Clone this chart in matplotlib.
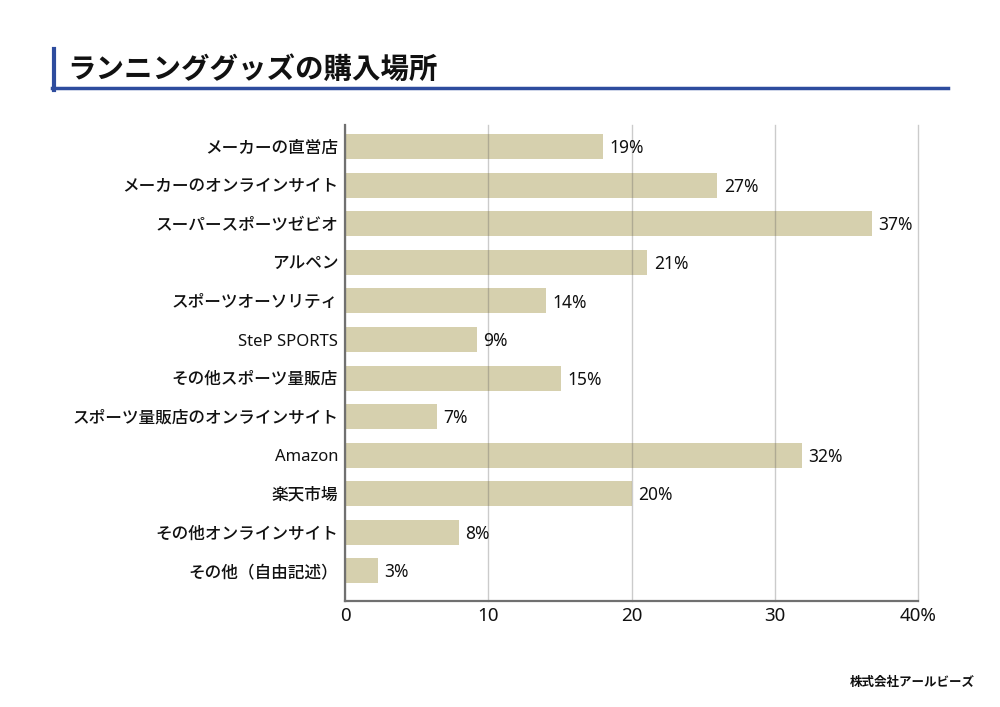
import matplotlib.pyplot as plt
from matplotlib.lines import Line2D

plt.rcParams['font.family'] = ['Noto Sans CJK JP', 'DejaVu Sans']
num_font = ['Noto Sans', 'Noto Sans CJK JP']

# --- data ---
categories = ['メーカーの直営店', 'メーカーのオンラインサイト', 'スーパースポーツゼビオ', 'アルペン',
              'スポーツオーソリティ', 'SteP SPORTS', 'その他スポーツ量販店',
              'スポーツ量販店のオンラインサイト', 'Amazon', '楽天市場', 'その他オンラインサイト',
              'その他（自由記述）']
bar_values = [18.0, 26.0, 36.8, 21.1, 14.0, 9.2, 15.1, 6.4, 31.9, 20.0, 7.95, 2.3]
value_labels = ['19%', '27%', '37%', '21%', '14%', '9%', '15%', '7%', '32%', '20%', '8%', '3%']
x_ticks = [0, 10, 20, 30, 40]
x_tick_labels = ['0', '10', '20', '30', '40%']

bar_color = '#D6D0AE'
blue = '#2E4C9E'

fig = plt.figure(figsize=(10, 7.07), dpi=100)
ax = fig.add_axes([0.345, 0.150, 0.573, 0.673])

pos = list(range(len(categories)))
ax.barh(pos, bar_values, height=0.65, color=bar_color, zorder=1)
for p, v, lab in zip(pos, bar_values, value_labels):
    ax.text(v + 0.45, p + 0.04, lab, va='center', ha='left', fontsize=12.5, color='#111111',
            family=num_font, fontweight='medium')

ax.set_xlim(0, 40)
ax.set_ylim(11.78, -0.56)
ax.set_yticks(pos)
ax.set_yticklabels(categories, fontsize=12, color='#111111', fontweight='medium',
                   family=['Noto Sans', 'Noto Sans CJK JP'])
ax.set_xticks(x_ticks)
ax.set_xticklabels(x_tick_labels, fontsize=13.5, color='#111111', family=num_font)
ax.tick_params(axis='both', length=0)
ax.tick_params(axis='y', pad=5)
ax.tick_params(axis='x', pad=4)

for s in ['top', 'right']:
    ax.spines[s].set_visible(False)
for s in ['left', 'bottom']:
    ax.spines[s].set_color('#707070')
    ax.spines[s].set_linewidth(1.6)
    ax.spines[s].set_zorder(4)

ax.xaxis.grid(True, color='#555555', alpha=0.3, linewidth=1)
ax.set_axisbelow(False)
for gl in ax.get_xgridlines():
    gl.set_zorder(3)
    gl.set_clip_on(False)

# title with blue frame lines
fig.text(0.067, 0.901, 'ランニンググッズの購入場所', fontsize=20.5, fontweight='bold',
         ha='left', va='center', color='#111111')
fig.add_artist(Line2D([0.054, 0.054], [0.873, 0.930], color=blue, linewidth=3))
fig.add_artist(Line2D([0.052, 0.948], [0.875, 0.875], color=blue, linewidth=2.5))

fig.text(0.975, 0.035, '株式会社アールビーズ', fontsize=9, fontweight='bold',
         ha='right', va='center', color='#111111')

fig.savefig('out.png', dpi=100, facecolor='white')
